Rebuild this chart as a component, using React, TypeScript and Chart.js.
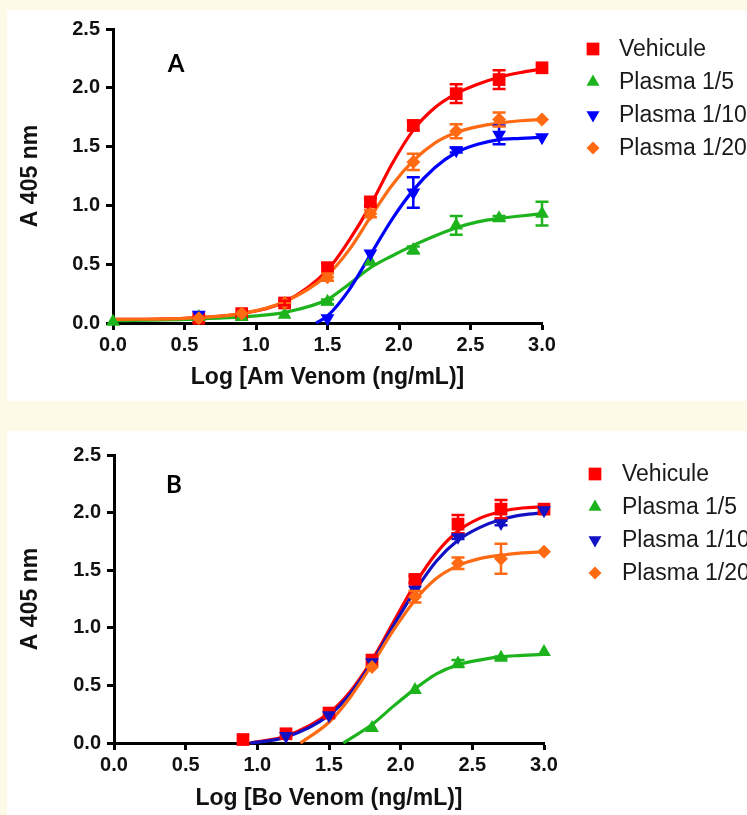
import React, { useEffect, useRef } from 'react';
import { Chart, registerables } from 'chart.js';

Chart.register(...registerables);

const FONT = "'Liberation Sans', Arial, Helvetica, sans-serif";
const LETTER_FONT = "Lato, 'Open Sans', 'Liberation Sans', sans-serif";

// ---------- shared ----------
const seriesLabels = ['Vehicule', 'Plasma 1/5', 'Plasma 1/10', 'Plasma 1/20'];
const colorsA = ['#FF0000', '#1DB31D', '#0000FF', '#FF6A12'];
const colorsB = ['#FF0000', '#1DB31D', '#1212C4', '#FF6A12'];
const pointStyles = ['rect', 'triangle', 'triangle', 'rectRot'];
const pointRotations = [0, 0, 180, 0];
const pointRadii = [9, 8, 8, 7];
const xTickValues = [0, 0.5, 1, 1.5, 2, 2.5, 3];
const yTickValues = [0, 0.5, 1, 1.5, 2, 2.5];

// ---------- Panel A (Am venom) : measured points ----------
const aVehiculeX = [0.6, 0.9, 1.2, 1.5, 1.8, 2.1, 2.4, 2.7, 3.0];
const aVehiculeY = [0.04, 0.08, 0.17, 0.47, 1.03, 1.68, 1.95, 2.07, 2.17];
const aVehiculeErr = [0, 0, 0.02, 0.04, 0.03, 0.04, 0.08, 0.08, 0];

const aPlasma5X = [0, 0.6, 0.9, 1.2, 1.5, 1.8, 2.1, 2.4, 2.7, 3.0];
const aPlasma5Y = [0.01, 0.05, 0.05, 0.07, 0.18, 0.52, 0.62, 0.83, 0.89, 0.93];
const aPlasma5Err = [0, 0, 0, 0, 0.02, 0, 0.03, 0.08, 0.02, 0.1];

const aPlasma10X = [0.6, 1.5, 1.8, 2.1, 2.4, 2.7, 3.0];
const aPlasma10Y = [0.07, 0.04, 0.59, 1.11, 1.47, 1.6, 1.58];
const aPlasma10Err = [0, 0, 0, 0.13, 0.02, 0.08, 0];

const aPlasma20X = [0.6, 0.9, 1.2, 1.5, 1.8, 2.1, 2.4, 2.7, 3.0];
const aPlasma20Y = [0.04, 0.08, 0.17, 0.39, 0.93, 1.37, 1.63, 1.73, 1.73];
const aPlasma20Err = [0, 0, 0, 0.03, 0.03, 0.07, 0.06, 0.06, 0];

// ---------- Panel A : fitted curves ----------
const aVehiculeCurveX = [0, 0.5, 0.9, 1.2, 1.5, 1.65, 1.8, 1.95, 2.1, 2.25, 2.4, 2.55, 2.7, 2.85, 3.0];
const aVehiculeCurveY = [0.03, 0.04, 0.08, 0.18, 0.45, 0.7, 1.0, 1.35, 1.64, 1.83, 1.95, 2.03, 2.09, 2.13, 2.16];
const aPlasma5CurveX = [0, 0.5, 1.0, 1.2, 1.5, 1.65, 1.8, 1.95, 2.1, 2.25, 2.4, 2.55, 2.7, 2.85, 3.0];
const aPlasma5CurveY = [0.02, 0.03, 0.06, 0.09, 0.2, 0.33, 0.47, 0.57, 0.66, 0.74, 0.81, 0.86, 0.89, 0.91, 0.93];
const aPlasma10CurveX = [1.42, 1.5, 1.65, 1.8, 1.95, 2.1, 2.25, 2.4, 2.55, 2.7, 2.85, 3.0];
const aPlasma10CurveY = [0, 0.06, 0.28, 0.58, 0.88, 1.13, 1.32, 1.45, 1.52, 1.56, 1.57, 1.58];
const aPlasma20CurveX = [0, 0.5, 0.9, 1.2, 1.5, 1.65, 1.8, 1.95, 2.1, 2.25, 2.4, 2.55, 2.7, 2.85, 3.0];
const aPlasma20CurveY = [0.03, 0.04, 0.08, 0.18, 0.41, 0.62, 0.9, 1.17, 1.38, 1.53, 1.62, 1.67, 1.7, 1.72, 1.73];

// ---------- Panel B (Bo venom) : measured points ----------
const bVehiculeX = [0.9, 1.2, 1.5, 1.8, 2.1, 2.4, 2.7, 3.0];
const bVehiculeY = [0.03, 0.08, 0.26, 0.72, 1.42, 1.9, 2.03, 2.03];
const bVehiculeErr = [0, 0, 0, 0, 0.03, 0.08, 0.08, 0];

const bPlasma5X = [1.8, 2.1, 2.4, 2.7, 3.0];
const bPlasma5Y = [0.13, 0.46, 0.69, 0.74, 0.79];
const bPlasma5Err = [0, 0, 0.03, 0.01, 0];

const bPlasma10X = [1.2, 1.5, 1.8, 2.1, 2.4, 2.7, 3.0];
const bPlasma10Y = [0.06, 0.24, 0.7, 1.33, 1.79, 1.91, 2.02];
const bPlasma10Err = [0, 0, 0, 0, 0.02, 0.02, 0];

const bPlasma20X = [1.8, 2.1, 2.4, 2.7, 3.0];
const bPlasma20Y = [0.66, 1.27, 1.56, 1.6, 1.66];
const bPlasma20Err = [0, 0.05, 0.05, 0.13, 0];

// ---------- Panel B : fitted curves ----------
const bVehiculeCurveX = [0.95, 1.2, 1.5, 1.65, 1.8, 1.95, 2.1, 2.25, 2.4, 2.55, 2.7, 2.85, 3.0];
const bVehiculeCurveY = [0, 0.06, 0.26, 0.45, 0.72, 1.05, 1.38, 1.65, 1.84, 1.95, 2.01, 2.04, 2.05];
const bPlasma5CurveX = [1.6, 1.8, 1.95, 2.1, 2.25, 2.4, 2.55, 2.7, 2.85, 3.0];
const bPlasma5CurveY = [0, 0.16, 0.32, 0.47, 0.6, 0.68, 0.72, 0.75, 0.76, 0.77];
const bPlasma10CurveX = [0.95, 1.2, 1.5, 1.65, 1.8, 1.95, 2.1, 2.25, 2.4, 2.55, 2.7, 2.85, 3.0];
const bPlasma10CurveY = [0, 0.05, 0.24, 0.43, 0.7, 1.02, 1.32, 1.58, 1.76, 1.87, 1.94, 1.98, 2.0];
const bPlasma20CurveX = [1.3, 1.5, 1.65, 1.8, 1.95, 2.1, 2.25, 2.4, 2.55, 2.7, 2.85, 3.0];
const bPlasma20CurveY = [0, 0.18, 0.4, 0.68, 0.98, 1.24, 1.43, 1.54, 1.6, 1.63, 1.65, 1.66];

const zip = (xs: number[], ys: number[]) => xs.map((x, i) => ({ x, y: ys[i] }));

// ---------- plugins ----------
const errorBarPlugin = {
  id: 'errorBars',
  afterDatasetsDraw(chart: any) {
    const ctx = chart.ctx;
    const xs = chart.scales.x;
    const ys = chart.scales.y;
    chart.data.datasets.forEach((ds: any) => {
      if (!ds.errors) return;
      ctx.save();
      ctx.strokeStyle = ds.borderColor;
      ctx.lineWidth = 2.5;
      ds.data.forEach((p: any, j: number) => {
        const e = ds.errors[j];
        if (!e) return;
        const px = xs.getPixelForValue(p.x);
        const top = ys.getPixelForValue(p.y + e);
        const bot = ys.getPixelForValue(p.y - e);
        ctx.beginPath();
        ctx.moveTo(px, top);
        ctx.lineTo(px, bot);
        ctx.moveTo(px - 6.5, top);
        ctx.lineTo(px + 6.5, top);
        ctx.moveTo(px - 6.5, bot);
        ctx.lineTo(px + 6.5, bot);
        ctx.stroke();
      });
      ctx.restore();
    });
  },
};

function drawMarker(ctx: CanvasRenderingContext2D, style: string, rot: number, x: number, y: number, r: number) {
  ctx.beginPath();
  if (style === 'rect') {
    const s = r * Math.SQRT1_2;
    ctx.rect(x - s, y - s, 2 * s, 2 * s);
  } else if (style === 'triangle') {
    const d = rot === 180 ? -1 : 1;
    ctx.moveTo(x, y - d * r);
    ctx.lineTo(x + r * 0.866, y + d * r * 0.5);
    ctx.lineTo(x - r * 0.866, y + d * r * 0.5);
    ctx.closePath();
  } else {
    ctx.moveTo(x, y - r);
    ctx.lineTo(x + r, y);
    ctx.lineTo(x, y + r);
    ctx.lineTo(x - r, y);
    ctx.closePath();
  }
  ctx.fill();
}

const decorPlugin = {
  id: 'panelDecor',
  afterDraw(chart: any, _args: any, opts: any) {
    const ctx = chart.ctx;
    ctx.save();
    // panel letter
    ctx.fillStyle = '#000';
    ctx.font = `bold 24px ${LETTER_FONT}`;
    ctx.textAlign = 'center';
    ctx.textBaseline = 'middle';
    ctx.fillText(opts.letter, opts.letterX, opts.letterY);
    // legend
    ctx.font = `23px ${FONT}`;
    ctx.textAlign = 'left';
    seriesLabels.forEach((label, i) => {
      const y = opts.legendY0 + i * opts.legendStep;
      ctx.fillStyle = opts.colors[i];
      drawMarker(ctx, pointStyles[i], pointRotations[i], opts.markerX, y, [9, 7.5, 7.5, 6.5][i]);
      ctx.fillStyle = '#1a1a1a';
      ctx.fillText(label, opts.textX, y + 1);
    });
    ctx.restore();
  },
};

type Panel = {
  width: number;
  height: number;
  chartLeft: number;
  chartTop: number;
  chartRight: number;
  chartBottom: number;
  xTitle: string;
  xTitlePad: number;
  letter: string;
  letterX: number;
  letterY: number;
  markerX: number;
  textX: number;
  legendY0: number;
  legendStep: number;
  colors: string[];
  points: { x: number[]; y: number[]; err: number[] }[];
  curves: { x: number[]; y: number[] }[];
};

function buildConfig(p: Panel): any {
  const datasets: any[] = [];
  p.curves.forEach((c, i) => {
    datasets.push({
      label: seriesLabels[i] + ' fit',
      data: zip(c.x, c.y),
      borderColor: p.colors[i],
      backgroundColor: p.colors[i],
      borderWidth: 3.2,
      pointRadius: 0,
      cubicInterpolationMode: 'monotone',
      fill: false,
      clip: false,
      order: 20 - i,
    });
  });
  p.points.forEach((s, i) => {
    datasets.push({
      label: seriesLabels[i],
      data: zip(s.x, s.y),
      errors: s.err,
      showLine: false,
      borderColor: p.colors[i],
      backgroundColor: p.colors[i],
      pointStyle: pointStyles[i],
      pointRotation: pointRotations[i],
      pointRadius: pointRadii[i],
      pointBorderWidth: 0,
      clip: false,
      order: 10 - i,
    });
  });
  const tickFont = { family: FONT, size: 20, weight: 'bold' as const };
  const titleFont = { family: FONT, size: 23, weight: 'bold' as const };
  const grid = {
    display: true,
    drawOnChartArea: false,
    drawTicks: true,
    tickLength: 7,
    tickWidth: 3,
    tickColor: '#000',
  };
  const border = { display: true, width: 3, color: '#000' };
  return {
    type: 'line',
    data: { datasets },
    options: {
      responsive: false,
      animation: false,
      events: [],
      layout: {
        padding: { left: 0, top: p.chartTop, right: p.width - p.chartRight, bottom: 0 },
      },
      plugins: {
        legend: { display: false },
        tooltip: { enabled: false },
        panelDecor: {
          letter: p.letter,
          letterX: p.letterX,
          letterY: p.letterY,
          markerX: p.markerX,
          textX: p.textX,
          legendY0: p.legendY0,
          legendStep: p.legendStep,
          colors: p.colors,
        },
      },
      scales: {
        x: {
          type: 'linear',
          min: 0,
          max: 3,
          afterBuildTicks: (s: any) => {
            s.ticks = xTickValues.map((v) => ({ value: v }));
          },
          ticks: {
            callback: (v: any) => Number(v).toFixed(1),
            font: tickFont,
            color: '#111',
            padding: 3,
            autoSkip: false,
            maxRotation: 0,
          },
          grid,
          border,
          title: {
            display: true,
            text: p.xTitle,
            font: titleFont,
            color: '#111',
            padding: { top: 0, bottom: p.xTitlePad },
          },
          afterFit: (s: any) => {
            s.height = p.height - p.chartBottom;
          },
        },
        y: {
          type: 'linear',
          min: 0,
          max: 2.5,
          afterBuildTicks: (s: any) => {
            s.ticks = yTickValues.map((v) => ({ value: v }));
          },
          ticks: {
            callback: (v: any) => Number(v).toFixed(1),
            font: tickFont,
            color: '#111',
            padding: 6,
            autoSkip: false,
          },
          grid,
          border,
          title: {
            display: true,
            text: 'A 405 nm',
            font: titleFont,
            color: '#111',
            padding: { top: 10, bottom: 0 },
          },
          afterFit: (s: any) => {
            s.width = p.chartLeft;
          },
        },
      },
    },
    plugins: [errorBarPlugin, decorPlugin],
  };
}

const panelA: Panel = {
  width: 740,
  height: 391,
  chartLeft: 106,
  chartTop: 19,
  chartRight: 535,
  chartBottom: 313,
  xTitle: 'Log [Am Venom (ng/mL)]',
  xTitlePad: 10,
  letter: 'A',
  letterX: 169,
  letterY: 54,
  markerX: 586,
  textX: 612,
  legendY0: 39,
  legendStep: 33,
  colors: colorsA,
  points: [
    { x: aVehiculeX, y: aVehiculeY, err: aVehiculeErr },
    { x: aPlasma5X, y: aPlasma5Y, err: aPlasma5Err },
    { x: aPlasma10X, y: aPlasma10Y, err: aPlasma10Err },
    { x: aPlasma20X, y: aPlasma20Y, err: aPlasma20Err },
  ],
  curves: [
    { x: aVehiculeCurveX, y: aVehiculeCurveY },
    { x: aPlasma5CurveX, y: aPlasma5CurveY },
    { x: aPlasma10CurveX, y: aPlasma10CurveY },
    { x: aPlasma20CurveX, y: aPlasma20CurveY },
  ],
};

const panelB: Panel = {
  width: 740,
  height: 384,
  chartLeft: 107,
  chartTop: 24,
  chartRight: 537,
  chartBottom: 312,
  xTitle: 'Log [Bo Venom (ng/mL)]',
  xTitlePad: 3,
  letter: 'B',
  letterX: 167,
  letterY: 54,
  markerX: 588,
  textX: 615,
  legendY0: 43,
  legendStep: 33,
  colors: colorsB,
  points: [
    { x: bVehiculeX, y: bVehiculeY, err: bVehiculeErr },
    { x: bPlasma5X, y: bPlasma5Y, err: bPlasma5Err },
    { x: bPlasma10X, y: bPlasma10Y, err: bPlasma10Err },
    { x: bPlasma20X, y: bPlasma20Y, err: bPlasma20Err },
  ],
  curves: [
    { x: bVehiculeCurveX, y: bVehiculeCurveY },
    { x: bPlasma5CurveX, y: bPlasma5CurveY },
    { x: bPlasma10CurveX, y: bPlasma10CurveY },
    { x: bPlasma20CurveX, y: bPlasma20CurveY },
  ],
};

function PanelChart({ panel, left, top }: { panel: Panel; left: number; top: number }) {
  const ref = useRef<HTMLCanvasElement | null>(null);
  useEffect(() => {
    if (!ref.current) return;
    const chart = new Chart(ref.current, buildConfig(panel));
    return () => chart.destroy();
  }, [panel]);
  return (
    <div
      style={{
        position: 'absolute',
        left,
        top,
        width: panel.width,
        height: panel.height,
        background: '#FFFFFF',
        overflow: 'hidden',
      }}
    >
      <canvas
        ref={ref}
        width={panel.width}
        height={panel.height}
        style={{ display: 'block', width: panel.width, height: panel.height }}
      />
    </div>
  );
}

export default function App() {
  return (
    <div
      style={{
        position: 'absolute',
        left: 0,
        top: 0,
        width: 747,
        height: 815,
        background: '#FEFAE8',
        overflow: 'hidden',
      }}
    >
      <PanelChart panel={panelA} left={7} top={10} />
      <PanelChart panel={panelB} left={7} top={431} />
    </div>
  );
}
